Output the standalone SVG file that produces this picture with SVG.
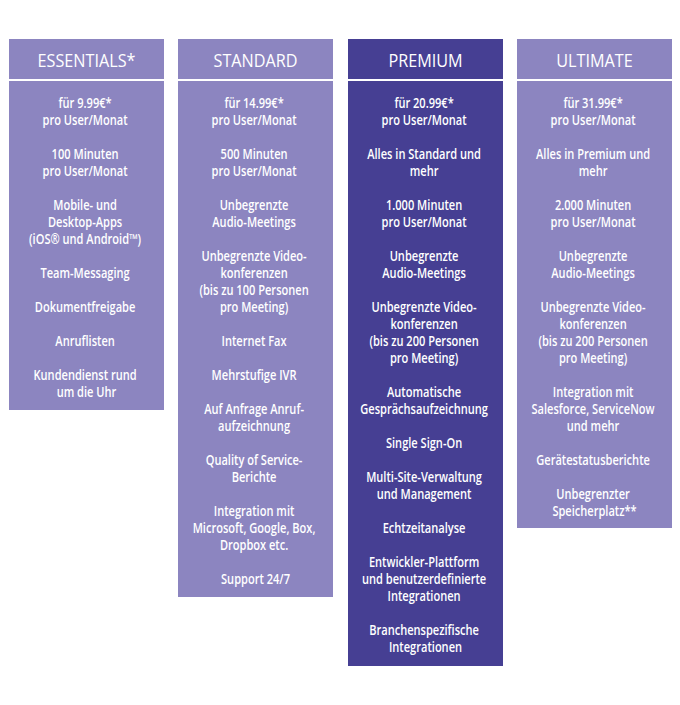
<svg xmlns="http://www.w3.org/2000/svg" width="680" height="705" viewBox="0 0 680 705">
<style>
.bg{fill:#ffffff}
.light{fill:#8c85c0}
.dark{fill:#463f93}
.t{font-family:"Open Sans","Liberation Sans",Arial,sans-serif;fill:#ffffff;text-anchor:middle}
.h{font-size:18px}
.b{font-size:13.5px;font-weight:600}
</style>
<rect class="bg" x="0" y="0" width="680" height="705"/>

<g id="essentials">
<rect class="light" x="9" y="39" width="155" height="40"/>
<rect class="light" x="9" y="81" width="155" height="329"/>
<text class="t h" transform="translate(86.5,67) scale(0.9,1)">ESSENTIALS*</text>
<g transform="translate(86.5,1) scale(0.82,1)">
<text class="t b">
<tspan x="0" y="107">für 9.99€*</tspan>
<tspan x="0" y="124">pro User/Monat</tspan>
<tspan x="0" y="158">100 Minuten</tspan>
<tspan x="0" y="175">pro User/Monat</tspan>
<tspan x="0" y="209">Mobile- und</tspan>
<tspan x="0" y="226">Desktop-Apps</tspan>
<tspan x="0" y="243">(iOS® und Android™)</tspan>
<tspan x="0" y="277">Team-Messaging</tspan>
<tspan x="0" y="311">Dokumentfreigabe</tspan>
<tspan x="0" y="345">Anruflisten</tspan>
<tspan x="0" y="379">Kundendienst rund</tspan>
<tspan x="0" y="396">um die Uhr</tspan>
</text>
</g>
</g>

<g id="standard">
<rect class="light" x="178" y="39" width="155" height="40"/>
<rect class="light" x="178" y="81" width="155" height="516"/>
<text class="t h" transform="translate(255.5,67) scale(0.9,1)">STANDARD</text>
<g transform="translate(255.5,1) scale(0.82,1)">
<text class="t b">
<tspan x="0" y="107">für 14.99€*</tspan>
<tspan x="0" y="124">pro User/Monat</tspan>
<tspan x="0" y="158">500 Minuten</tspan>
<tspan x="0" y="175">pro User/Monat</tspan>
<tspan x="0" y="209">Unbegrenzte</tspan>
<tspan x="0" y="226">Audio-Meetings</tspan>
<tspan x="0" y="260">Unbegrenzte Video-</tspan>
<tspan x="0" y="277">konferenzen</tspan>
<tspan x="0" y="294">(bis zu 100 Personen</tspan>
<tspan x="0" y="311">pro Meeting)</tspan>
<tspan x="0" y="345">Internet Fax</tspan>
<tspan x="0" y="379">Mehrstufige IVR</tspan>
<tspan x="0" y="413">Auf Anfrage Anruf-</tspan>
<tspan x="0" y="430">aufzeichnung</tspan>
<tspan x="0" y="464">Quality of Service-</tspan>
<tspan x="0" y="481">Berichte</tspan>
<tspan x="0" y="515">Integration mit</tspan>
<tspan x="0" y="532">Microsoft, Google, Box,</tspan>
<tspan x="0" y="549">Dropbox etc.</tspan>
<tspan x="0" y="583">Support 24/7</tspan>
</text>
</g>
</g>

<g id="premium">
<rect class="dark" x="348" y="39" width="155" height="40"/>
<rect class="dark" x="348" y="81" width="155" height="585"/>
<text class="t h" transform="translate(425.5,67) scale(0.9,1)">PREMIUM</text>
<g transform="translate(425.5,1) scale(0.82,1)">
<text class="t b">
<tspan x="0" y="107">für 20.99€*</tspan>
<tspan x="0" y="124">pro User/Monat</tspan>
<tspan x="0" y="158">Alles in Standard und</tspan>
<tspan x="0" y="175">mehr</tspan>
<tspan x="0" y="209">1.000 Minuten</tspan>
<tspan x="0" y="226">pro User/Monat</tspan>
<tspan x="0" y="260">Unbegrenzte</tspan>
<tspan x="0" y="277">Audio-Meetings</tspan>
<tspan x="0" y="311">Unbegrenzte Video-</tspan>
<tspan x="0" y="328">konferenzen</tspan>
<tspan x="0" y="345">(bis zu 200 Personen</tspan>
<tspan x="0" y="362">pro Meeting)</tspan>
<tspan x="0" y="396">Automatische</tspan>
<tspan x="0" y="413">Gesprächsaufzeichnung</tspan>
<tspan x="0" y="447">Single Sign-On</tspan>
<tspan x="0" y="481">Multi-Site-Verwaltung</tspan>
<tspan x="0" y="498">und Management</tspan>
<tspan x="0" y="532">Echtzeitanalyse</tspan>
<tspan x="0" y="566">Entwickler-Plattform</tspan>
<tspan x="0" y="583">und benutzerdefinierte</tspan>
<tspan x="0" y="600">Integrationen</tspan>
<tspan x="0" y="634">Branchenspezifische</tspan>
<tspan x="0" y="651">Integrationen</tspan>
</text>
</g>
</g>

<g id="ultimate">
<rect class="light" x="517" y="39" width="155" height="40"/>
<rect class="light" x="517" y="81" width="155" height="447"/>
<text class="t h" transform="translate(594.5,67) scale(0.9,1)">ULTIMATE</text>
<g transform="translate(594.5,1) scale(0.82,1)">
<text class="t b">
<tspan x="0" y="107">für 31.99€*</tspan>
<tspan x="0" y="124">pro User/Monat</tspan>
<tspan x="0" y="158">Alles in Premium und</tspan>
<tspan x="0" y="175">mehr</tspan>
<tspan x="0" y="209">2.000 Minuten</tspan>
<tspan x="0" y="226">pro User/Monat</tspan>
<tspan x="0" y="260">Unbegrenzte</tspan>
<tspan x="0" y="277">Audio-Meetings</tspan>
<tspan x="0" y="311">Unbegrenzte Video-</tspan>
<tspan x="0" y="328">konferenzen</tspan>
<tspan x="0" y="345">(bis zu 200 Personen</tspan>
<tspan x="0" y="362">pro Meeting)</tspan>
<tspan x="0" y="396">Integration mit</tspan>
<tspan x="0" y="413">Salesforce, ServiceNow</tspan>
<tspan x="0" y="430">und mehr</tspan>
<tspan x="0" y="464">Gerätestatusberichte</tspan>
<tspan x="0" y="498">Unbegrenzter</tspan>
<tspan x="0" y="515">Speicherplatz**</tspan>
</text>
</g>
</g>

<g id="connectors"/>
</svg>
